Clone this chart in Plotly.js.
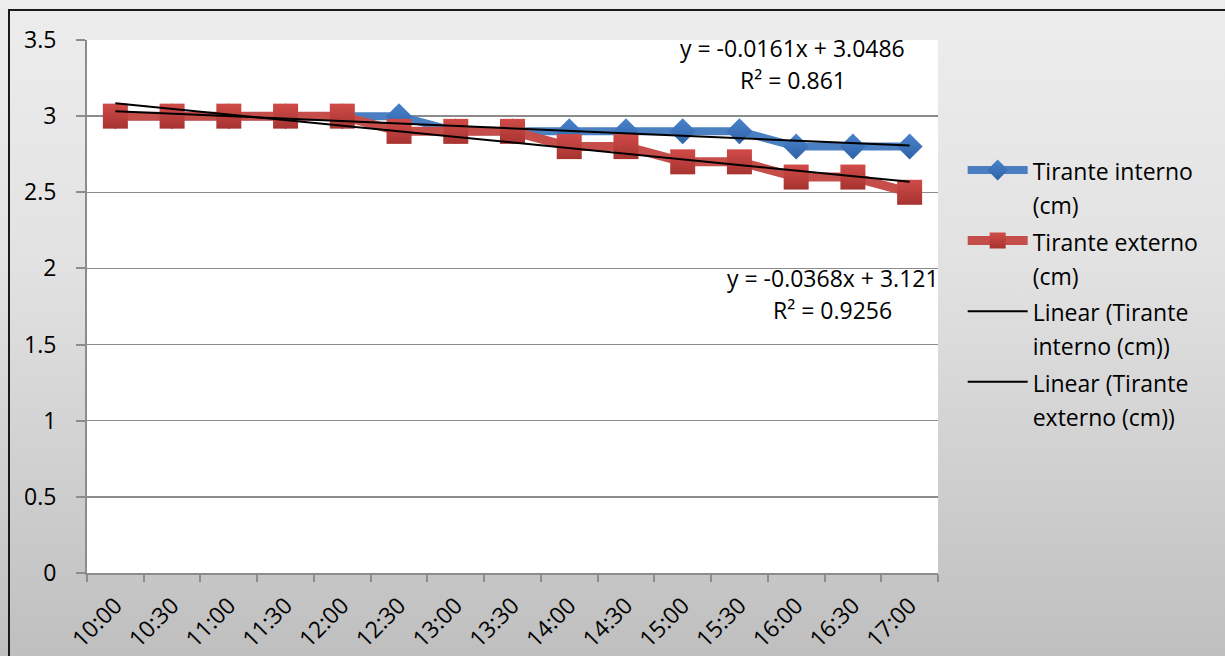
<!DOCTYPE html>
<html>
<head>
<meta charset="utf-8">
<script src="https://cdn.plot.ly/plotly-3.0.1.min.js"></script>
<style>
  html, body { margin: 0; padding: 0; background: #ffffff; }
  #wrap { position: relative; width: 1225px; height: 656px; overflow: hidden; }
  #chart { position: absolute; left: 0; top: 0; width: 1225px; height: 656px;
           background: linear-gradient(to bottom, #ededed 0%, #e2e2e2 40%, #bfbfbf 100%); }
  #frame { position: absolute; left: 8px; top: 9px; width: 1230px; height: 660px;
           border: 2px solid #1a1a1a; pointer-events: none; box-sizing: border-box; }
</style>
</head>
<body>
<div id="wrap">
  <div id="chart"></div>
  <div id="frame"></div>
</div>
<script>
const categories = ["10:00","10:30","11:00","11:30","12:00","12:30","13:00","13:30","14:00","14:30","15:00","15:30","16:00","16:30","17:00"];
const interno = [3, 3, 3, 3, 3, 3, 2.9, 2.9, 2.9, 2.9, 2.9, 2.9, 2.8, 2.8, 2.8];
const externo = [3, 3, 3, 3, 3, 2.9, 2.9, 2.9, 2.8, 2.8, 2.7, 2.7, 2.6, 2.6, 2.5];
// Trendline coefficients as printed on the chart
const trendInterno = { slope: -0.0161, intercept: 3.0486, r2: "0.861" };
const trendExterno = { slope: -0.0368, intercept: 3.121, r2: "0.9256" };

const n = categories.length;
const trendX = [categories[0], categories[n - 1]];
const yInt = [trendInterno.intercept + trendInterno.slope * 1, trendInterno.intercept + trendInterno.slope * n];
const yExt = [trendExterno.intercept + trendExterno.slope * 1, trendExterno.intercept + trendExterno.slope * n];

const leg = (t) => '<span style="font-size:23px">' + t + '</span>';

const traces = [
  {
    x: categories, y: interno, type: 'scatter', mode: 'lines+markers',
    name: leg('Tirante interno<br>(cm)'), legendgroup: 'a',
    line: { color: '#4a7fc1', width: 8 },
    marker: { symbol: 'diamond', size: 20, color: '#4a83cc', line: { width: 0 },
              gradient: { type: 'vertical', color: '#2e62a6' } }
  },
  {
    x: categories, y: externo, type: 'scatter', mode: 'lines+markers',
    name: leg('Tirante externo<br>(cm)'), legendgroup: 'b',
    line: { color: '#c54e4b', width: 9 },
    marker: { symbol: 'square', size: 25, color: '#d04b48', line: { width: 0 },
              gradient: { type: 'vertical', color: '#a63330' } }
  },
  {
    x: trendX, y: yInt, type: 'scatter', mode: 'lines',
    name: leg('Linear (Tirante<br>interno (cm))'), legendgroup: 'c',
    line: { color: '#000000', width: 2 }
  },
  {
    x: trendX, y: yExt, type: 'scatter', mode: 'lines',
    name: leg('Linear (Tirante<br>externo (cm))'), legendgroup: 'd',
    line: { color: '#000000', width: 2 }
  }
];

const font = "'Open Sans', 'DejaVu Sans', sans-serif";
const fs = 23;

const layout = {
  width: 1225, height: 656,
  margin: { l: 87, r: 287, t: 40, b: 83 },
  paper_bgcolor: 'rgba(0,0,0,0)',
  plot_bgcolor: '#ffffff',
  font: { family: font, size: fs, color: '#000000' },
  showlegend: true,
  legend: {
    x: 1.029, y: 0.80, xanchor: 'left', yanchor: 'top', valign: 'top',
    bgcolor: 'rgba(0,0,0,0)', font: { family: font, size: 26, color: '#000000' },
    traceorder: 'grouped', tracegroupgap: 0, itemwidth: 60
  },
  xaxis: {
    type: 'category',
    range: [-0.5, n - 0.5],
    tickangle: -45,
    ticks: 'outside', tickson: 'boundaries', ticklen: 7, tickcolor: '#8c8c8c', tickwidth: 2,
    ticklabelstandoff: 8,
    showline: true, linecolor: '#8c8c8c', linewidth: 2,
    showgrid: false, zeroline: false,
    tickfont: { family: font, size: fs, color: '#000000' }
  },
  yaxis: {
    range: [0, 3.5], dtick: 0.5, tick0: 0,
    ticks: 'outside', ticklen: 9, tickcolor: '#8c8c8c', tickwidth: 2,
    showline: true, linecolor: '#8c8c8c', linewidth: 2,
    showgrid: true, gridcolor: '#8c8c8c', gridwidth: 1.5,
    zeroline: false,
    ticklabelstandoff: 15,
    tickfont: { family: font, size: fs, color: '#000000' }
  },
  annotations: [
    { xref: 'paper', yref: 'paper', x: 0.8296, y: 0.985, text: 'y = -0.0161x + 3.0486',
      showarrow: false, font: { family: font, size: fs }, xanchor: 'center', yanchor: 'middle' },
    { xref: 'paper', yref: 'paper', x: 0.8296, y: 0.925, text: 'R² = ' + trendInterno.r2,
      showarrow: false, font: { family: font, size: fs }, xanchor: 'center', yanchor: 'middle' },
    { xref: 'paper', yref: 'paper', x: 0.8766, y: 0.5535, text: 'y = -0.0368x + 3.121',
      showarrow: false, font: { family: font, size: fs }, xanchor: 'center', yanchor: 'middle' },
    { xref: 'paper', yref: 'paper', x: 0.8766, y: 0.4934, text: 'R² = ' + trendExterno.r2,
      showarrow: false, font: { family: font, size: fs }, xanchor: 'center', yanchor: 'middle' }
  ]
};

Plotly.newPlot('chart', traces, layout, { displayModeBar: false, staticPlot: true });
</script>
</body>
</html>
